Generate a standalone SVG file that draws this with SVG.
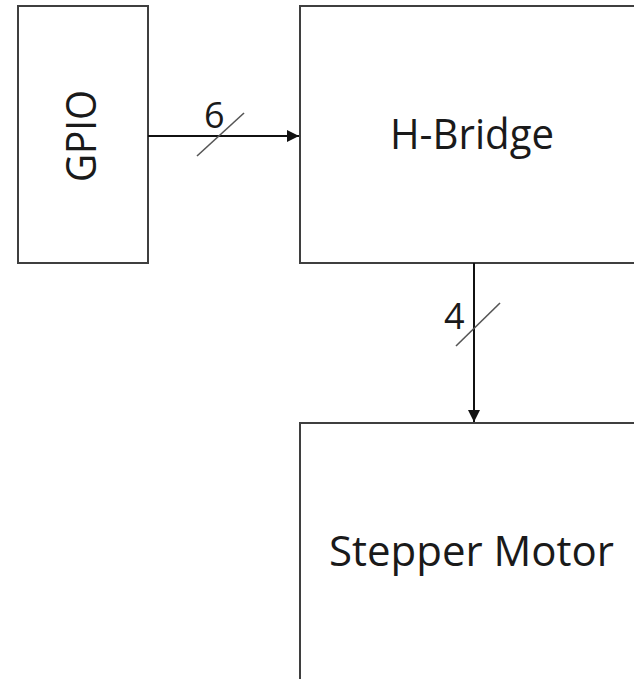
<svg xmlns="http://www.w3.org/2000/svg" width="634" height="679" viewBox="0 0 634 679">
<style>
.box{fill:#fff;stroke:#3f3f3f;stroke-width:2}
.lbl{font-family:"Open Sans","Noto Sans","Liberation Sans",sans-serif;font-size:42px;fill:#1a1a1a}
.num{font-family:"Open Sans","Noto Sans","Liberation Sans",sans-serif;font-size:36px;fill:#1a1a1a}
.wire{stroke:#111;stroke-width:2;fill:none}
.slash{stroke:#555;stroke-width:1.6}
</style>
<defs>
<marker id="arr" viewBox="0 0 10 10" refX="10" refY="5" markerWidth="6" markerHeight="6" orient="auto" markerUnits="strokeWidth">
<path d="M0,0 L10,5 L0,10 z" fill="#111"/>
</marker>
</defs>
<rect width="634" height="679" fill="#fff"/>
<g id="gpio">
<rect class="box" x="18" y="6" width="130" height="257"/>
<text class="lbl" transform="translate(95.5,136) rotate(-90)" text-anchor="middle" textLength="92" lengthAdjust="spacingAndGlyphs">GPIO</text>
</g>
<g id="hbridge">
<rect class="box" x="300" y="6" width="400" height="257"/>
<text class="lbl" x="390" y="148.5" textLength="164" lengthAdjust="spacingAndGlyphs">H-Bridge</text>
</g>
<g id="stepper">
<rect class="box" x="300" y="423" width="400" height="300"/>
<text class="lbl" x="329" y="565.5" textLength="285" lengthAdjust="spacingAndGlyphs">Stepper Motor</text>
</g>
<g id="connectors">
<line class="wire" x1="148" y1="136" x2="299" y2="136" marker-end="url(#arr)"/>
<line class="slash" x1="197" y1="156" x2="244" y2="113"/>
<text class="num" x="204" y="127.5">6</text>
<line class="wire" x1="474" y1="263" x2="474" y2="422" marker-end="url(#arr)"/>
<line class="slash" x1="456" y1="346" x2="500" y2="303"/>
<text class="num" x="444" y="328.5">4</text>
</g>
</svg>
